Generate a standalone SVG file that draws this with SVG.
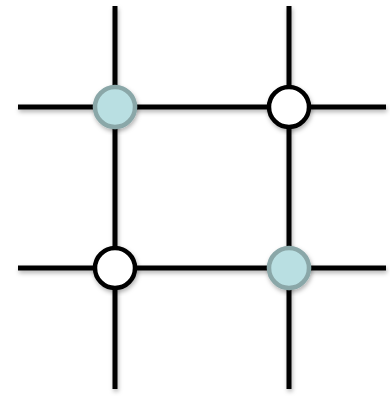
<svg xmlns="http://www.w3.org/2000/svg" width="390" height="396" viewBox="0 0 390 396">
<defs>
<filter id="sh" x="-20%" y="-20%" width="140%" height="140%">
<feDropShadow dx="1" dy="2.5" stdDeviation="2" flood-color="#000" flood-opacity="0.3"/>
</filter>
<style>
.ln{stroke:#000;stroke-width:5;fill:none}
.open{fill:#fff;stroke:#000;stroke-width:4.5}
.fill{fill:#b9dfe2;stroke:#8aa7a8;stroke-width:4.5}
</style>
</defs>
<rect width="390" height="396" fill="#fff"/>
<g id="connectors" filter="url(#sh)">
<line class="ln" x1="115" y1="6" x2="115" y2="389"/>
<line class="ln" x1="289" y1="6" x2="289" y2="389"/>
<line class="ln" x1="18" y1="107" x2="386" y2="107"/>
<line class="ln" x1="18" y1="268" x2="386" y2="268"/>
</g>
<g id="n1" filter="url(#sh)"><circle class="fill" cx="115" cy="107" r="20"/></g>
<g id="n2" filter="url(#sh)"><circle class="open" cx="289" cy="107" r="20"/></g>
<g id="n3" filter="url(#sh)"><circle class="open" cx="115" cy="268" r="20"/></g>
<g id="n4" filter="url(#sh)"><circle class="fill" cx="289" cy="268" r="20"/></g>
</svg>
